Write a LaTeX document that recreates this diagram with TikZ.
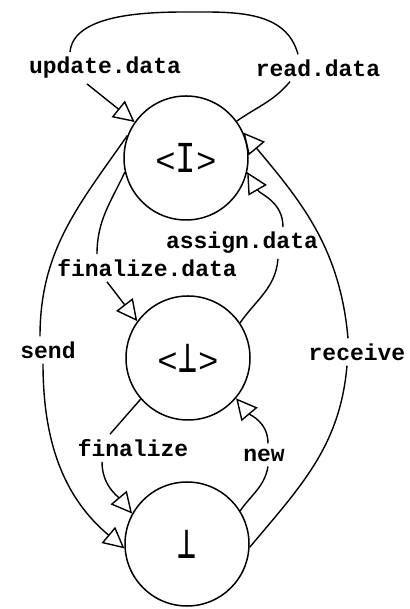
\documentclass[tikz,border=0pt]{standalone}
\usepackage{fontspec}
\usepackage{graphicx}
\setmonofont{Liberation Mono}
\newfontfamily\perpfont{DejaVu Sans Mono}
\usetikzlibrary{arrows.meta}
% upright "bottom" sign, narrowed to typewriter proportions
\newcommand{\botsym}{\scalebox{0.7}[1]{\fontsize{45}{45}\selectfont\perpfont ⊥}}
\begin{document}
\begin{tikzpicture}[x=1pt,y=1pt,
  state/.style={circle, draw, line width=1.5pt, minimum size=124pt, inner sep=0pt},
  statetext/.style={font=\fontsize{34}{34}\selectfont\ttfamily},
  lbl/.style={font=\fontsize{23}{23}\selectfont\ttfamily\bfseries, inner sep=5pt},
  conn/.style={line width=1.4pt},
  conntip/.style={conn, -{Triangle[open, length=21pt, width=21pt, line width=1.4pt]}}]
\useasboundingbox (0,0) rectangle (409,609);

% the three states
\node[state, statetext] (top) at (186,451) {<\scalebox{1}[1.3]{I}>};
\node[state, statetext] (mid) at (188,251) {<\makebox[20.4pt]{\botsym}>};
\node[state] (bot) at (187,65) {\botsym};

% transition labels
\node[lbl] (ud) at (105,541) {update.data};
\node[lbl] (rd) at (318,541) {read.data};
\node[lbl] (ad) at (242,366) {assign.data};
\node[lbl] (fd) at (147,341) {finalize.data};
\node[lbl] (sd) at (48,259) {send};
\node[lbl] (rc) at (357,257) {receive};
\node[lbl] (fz) at (133,161) {finalize};
\node[lbl] (nw) at (264,154) {new};

% loop over the top state
\coordinate (apex) at (187,597);
\draw[conn] (top.36) to[out=35, in=-130] ([xshift=-28pt]rd.south);
\draw[conn] ([xshift=-20pt]rd.north) to[out=105, in=0] (apex)
  to[out=180, in=85, looseness=0.8] ([xshift=-35pt]ud.north);
\draw[conntip] ([xshift=-18pt]ud.south) -- (top.145);

% send / receive
\draw[conn] (top.159) to[out=235, in=90] ([xshift=-8pt]sd.north);
\draw[conntip] ([xshift=-5pt]sd.south) to[out=-90, in=140] (bot.184);
\draw[conn] (bot.357) to[out=50, in=-95] ([xshift=-10pt]rc.south);
\draw[conntip] ([xshift=-9pt]rc.north) to[out=95, in=-50] (top.24);

% finalize.data / assign.data
\draw[conn] (top.193) to[out=245, in=90] ([xshift=-50pt]fd.north);
\draw[conntip] ([xshift=-40pt]fd.south) -- (mid.144);
\draw[conn] (mid.34) to[out=55, in=-95] ([xshift=36pt]ad.south);
\draw[conntip] ([xshift=41pt]ad.north) to[out=90, in=-60] (top.-13);

% finalize / new
\draw[conn] (mid.221) -- ([xshift=-23pt]fz.north);
\draw[conntip] ([xshift=-31pt]fz.south) to[out=-90, in=130] (bot.151);
\draw[conn] (bot.32) to[out=55, in=-100] ([xshift=4pt]nw.south);
\draw[conntip] ([xshift=4pt]nw.north) to[out=90, in=-50] (mid.-40);
\end{tikzpicture}
\end{document}
